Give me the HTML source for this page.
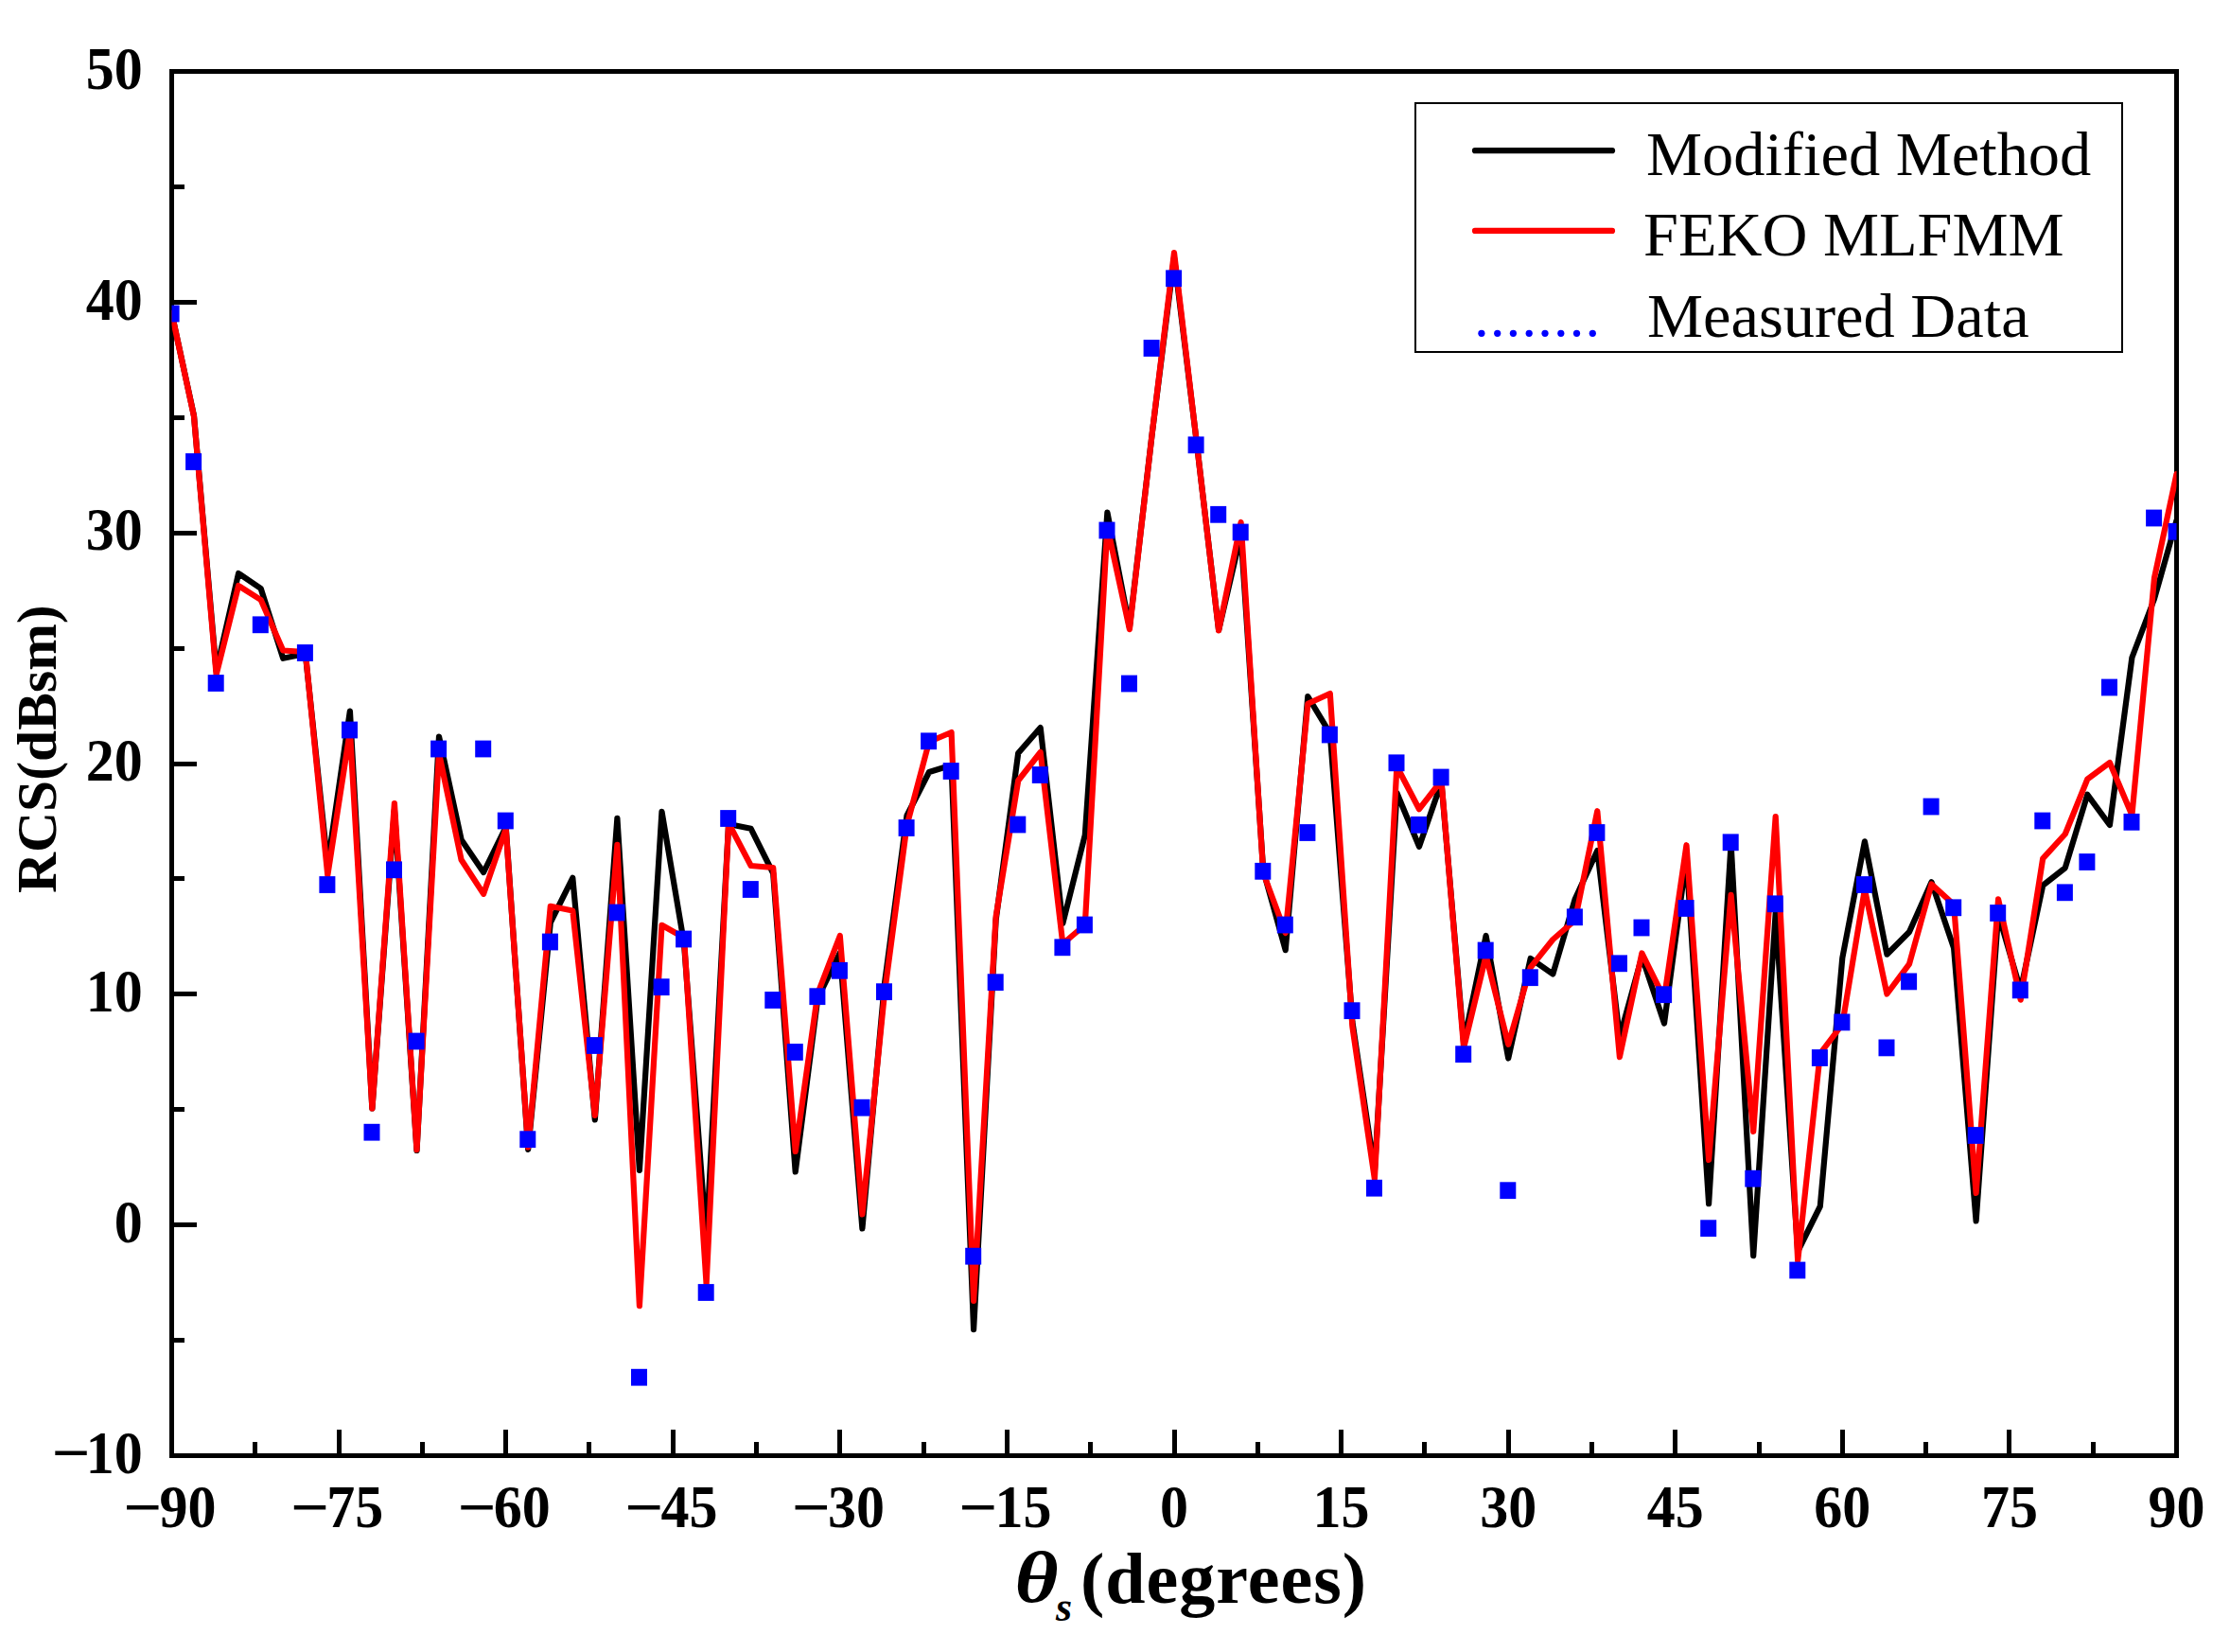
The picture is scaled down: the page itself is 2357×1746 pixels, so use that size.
<!DOCTYPE html>
<html lang="en">
<head>
<meta charset="utf-8">
<title>RCS comparison</title>
<style>
html,body{margin:0;padding:0;background:#fff;}
body{width:2357px;height:1746px;overflow:hidden;}
svg{display:block;}
text{font-family:"Liberation Serif","Times New Roman",serif;fill:#000;}
.b{font-weight:bold;}
</style>
</head>
<body>
<svg width="2357" height="1746" viewBox="0 0 2357 1746">
<rect width="2357" height="1746" fill="#fff"/>
<defs><clipPath id="pc"><rect x="181.5" y="75.5" width="2119.0" height="1463.0"/></clipPath></defs>
<rect x="181.5" y="75.5" width="2119.0" height="1463.0" fill="none" stroke="#000" stroke-width="5"/>
<path d="M181.5 75.5h26.5M181.5 197.5h13.5M181.5 319.5h26.5M181.5 441.5h13.5M181.5 563.5h26.5M181.5 685.5h13.5M181.5 807.5h26.5M181.5 928.5h13.5M181.5 1050.5h26.5M181.5 1172.5h13.5M181.5 1294.5h26.5M181.5 1416.5h13.5M181.5 1538.5h26.5M181.5 1538.5v-27.5M269.5 1538.5v-14.5M358.5 1538.5v-27.5M446.5 1538.5v-14.5M534.5 1538.5v-27.5M622.5 1538.5v-14.5M711.5 1538.5v-27.5M799.5 1538.5v-14.5M887.5 1538.5v-27.5M976.5 1538.5v-14.5M1064.5 1538.5v-27.5M1152.5 1538.5v-14.5M1241.5 1538.5v-27.5M1329.5 1538.5v-14.5M1417.5 1538.5v-27.5M1505.5 1538.5v-14.5M1594.5 1538.5v-27.5M1682.5 1538.5v-14.5M1770.5 1538.5v-27.5M1859.5 1538.5v-14.5M1947.5 1538.5v-27.5M2035.5 1538.5v-14.5M2123.5 1538.5v-27.5M2212.5 1538.5v-14.5M2300.5 1538.5v-27.5" stroke="#000" stroke-width="5" fill="none"/>
<g clip-path="url(#pc)">
<polyline points="181.5,331.0 205.0,439.5 228.6,709.0 252.1,606.0 275.7,622.0 299.2,695.8 322.8,691.0 346.3,914.0 369.9,751.5 393.4,1171.5 416.9,856.0 440.5,1216.0 464.0,778.5 487.6,887.5 511.1,922.0 534.7,874.0 558.2,1214.8 581.8,975.0 605.3,927.8 628.8,1183.5 652.4,864.8 675.9,1236.8 699.5,857.8 723.0,997.0 746.6,1310.0 770.1,871.0 793.7,875.8 817.2,923.0 840.7,1238.5 864.3,1055.0 887.8,1007.0 911.4,1298.5 934.9,1040.0 958.5,862.0 982.0,816.0 1005.6,808.8 1029.1,1405.2 1052.6,972.5 1076.2,796.0 1099.7,769.0 1123.3,976.0 1146.8,882.5 1170.4,541.5 1193.9,663.0 1217.5,460.0 1241.0,272.0 1264.5,465.0 1288.1,666.0 1311.6,565.0 1335.2,920.0 1358.7,1004.2 1382.3,736.2 1405.8,775.0 1429.4,1080.0 1452.9,1238.0 1476.4,838.0 1500.0,894.8 1523.5,827.0 1547.1,1102.0 1570.6,989.0 1594.2,1118.5 1617.7,1013.0 1641.3,1029.5 1664.8,950.0 1688.3,899.0 1711.9,1096.0 1735.4,1011.0 1759.0,1081.5 1782.5,906.0 1806.1,1272.2 1829.6,892.0 1853.2,1327.2 1876.7,965.0 1900.2,1322.5 1923.8,1275.0 1947.3,1012.5 1970.9,889.4 1994.4,1008.7 2018.0,985.0 2041.5,932.3 2065.1,1002.0 2088.6,1290.5 2112.1,966.0 2135.7,1046.5 2159.2,935.8 2182.8,917.2 2206.3,839.8 2229.9,872.0 2253.4,695.0 2277.0,633.0 2300.5,550.0" fill="none" stroke="#000" stroke-width="6.2" stroke-linejoin="round" stroke-linecap="round"/>
<polyline points="181.5,331.0 205.0,440.0 228.6,713.0 252.1,619.0 275.7,634.0 299.2,687.5 322.8,689.0 346.3,925.0 369.9,773.0 393.4,1171.5 416.9,849.0 440.5,1215.2 464.0,796.0 487.6,908.8 511.1,944.8 534.7,876.0 558.2,1212.5 581.8,957.8 605.3,962.5 628.8,1179.0 652.4,892.8 675.9,1380.2 699.5,977.8 723.0,991.0 746.6,1357.0 770.1,870.0 793.7,915.0 817.2,917.0 840.7,1217.0 864.3,1050.0 887.8,989.0 911.4,1283.5 934.9,1050.0 958.5,872.5 982.0,784.0 1005.6,774.0 1029.1,1374.8 1052.6,969.0 1076.2,825.0 1099.7,795.0 1123.3,997.5 1146.8,977.5 1170.4,557.0 1193.9,665.2 1217.5,460.0 1241.0,267.0 1264.5,465.0 1288.1,666.5 1311.6,552.0 1335.2,922.5 1358.7,986.0 1382.3,743.8 1405.8,733.0 1429.4,1085.0 1452.9,1246.0 1476.4,810.0 1500.0,855.2 1523.5,825.0 1547.1,1107.5 1570.6,1010.0 1594.2,1103.8 1617.7,1022.5 1641.3,993.0 1664.8,972.5 1688.3,857.2 1711.9,1117.2 1735.4,1007.5 1759.0,1055.0 1782.5,893.2 1806.1,1226.0 1829.6,945.8 1853.2,1196.0 1876.7,863.0 1900.2,1332.5 1923.8,1113.5 1947.3,1082.5 1970.9,940.0 1994.4,1050.5 2018.0,1018.8 2041.5,934.5 2065.1,956.0 2088.6,1261.0 2112.1,950.3 2135.7,1056.7 2159.2,907.3 2182.8,881.5 2206.3,823.5 2229.9,806.0 2253.4,861.5 2277.0,611.0 2300.5,501.0" fill="none" stroke="#f00" stroke-width="6.2" stroke-linejoin="round" stroke-linecap="round"/>
<g fill="#00f">
<rect x="172.6" y="322.6" width="17" height="17.8"/><rect x="196.1" y="479.1" width="17" height="17.8"/><rect x="219.7" y="713.1" width="17" height="17.8"/><rect x="266.8" y="651.4" width="17" height="17.8"/><rect x="313.9" y="681.1" width="17" height="17.8"/><rect x="337.4" y="926.1" width="17" height="17.8"/><rect x="361.0" y="762.6" width="17" height="17.8"/><rect x="384.5" y="1187.8" width="17" height="17.8"/><rect x="408.0" y="910.4" width="17" height="17.8"/><rect x="431.6" y="1091.6" width="17" height="17.8"/><rect x="455.1" y="782.6" width="17" height="17.8"/><rect x="502.2" y="782.6" width="17" height="17.8"/><rect x="525.8" y="858.6" width="17" height="17.8"/><rect x="549.3" y="1195.3" width="17" height="17.8"/><rect x="572.9" y="986.6" width="17" height="17.8"/><rect x="619.9" y="1096.1" width="17" height="17.8"/><rect x="643.5" y="955.6" width="17" height="17.8"/><rect x="667.0" y="1446.8" width="17" height="17.8"/><rect x="690.6" y="1034.3" width="17" height="17.8"/><rect x="714.1" y="983.6" width="17" height="17.8"/><rect x="737.7" y="1357.1" width="17" height="17.8"/><rect x="761.2" y="856.1" width="17" height="17.8"/><rect x="784.8" y="931.1" width="17" height="17.8"/><rect x="808.3" y="1048.1" width="17" height="17.8"/><rect x="831.8" y="1103.1" width="17" height="17.8"/><rect x="855.4" y="1044.3" width="17" height="17.8"/><rect x="878.9" y="1016.9" width="17" height="17.8"/><rect x="902.5" y="1161.8" width="17" height="17.8"/><rect x="926.0" y="1039.3" width="17" height="17.8"/><rect x="949.6" y="866.1" width="17" height="17.8"/><rect x="973.1" y="774.4" width="17" height="17.8"/><rect x="996.7" y="806.1" width="17" height="17.8"/><rect x="1020.2" y="1318.8" width="17" height="17.8"/><rect x="1043.7" y="1029.3" width="17" height="17.8"/><rect x="1067.3" y="862.6" width="17" height="17.8"/><rect x="1090.8" y="810.1" width="17" height="17.8"/><rect x="1114.4" y="992.4" width="17" height="17.8"/><rect x="1137.9" y="968.6" width="17" height="17.8"/><rect x="1161.5" y="551.6" width="17" height="17.8"/><rect x="1185.0" y="713.6" width="17" height="17.8"/><rect x="1208.6" y="359.1" width="17" height="17.8"/><rect x="1232.1" y="285.4" width="17" height="17.8"/><rect x="1255.6" y="461.4" width="17" height="17.8"/><rect x="1279.2" y="534.9" width="17" height="17.8"/><rect x="1302.7" y="553.6" width="17" height="17.8"/><rect x="1326.3" y="911.9" width="17" height="17.8"/><rect x="1349.8" y="968.6" width="17" height="17.8"/><rect x="1373.4" y="871.1" width="17" height="17.8"/><rect x="1396.9" y="767.6" width="17" height="17.8"/><rect x="1420.5" y="1059.3" width="17" height="17.8"/><rect x="1444.0" y="1246.8" width="17" height="17.8"/><rect x="1467.5" y="797.4" width="17" height="17.8"/><rect x="1491.1" y="862.9" width="17" height="17.8"/><rect x="1514.6" y="812.6" width="17" height="17.8"/><rect x="1538.2" y="1105.3" width="17" height="17.8"/><rect x="1561.7" y="995.6" width="17" height="17.8"/><rect x="1585.3" y="1249.3" width="17" height="17.8"/><rect x="1608.8" y="1024.3" width="17" height="17.8"/><rect x="1655.9" y="960.4" width="17" height="17.8"/><rect x="1679.4" y="871.1" width="17" height="17.8"/><rect x="1703.0" y="1009.4" width="17" height="17.8"/><rect x="1726.5" y="971.6" width="17" height="17.8"/><rect x="1750.1" y="1042.3" width="17" height="17.8"/><rect x="1773.6" y="951.1" width="17" height="17.8"/><rect x="1797.2" y="1289.3" width="17" height="17.8"/><rect x="1820.7" y="881.4" width="17" height="17.8"/><rect x="1844.3" y="1236.8" width="17" height="17.8"/><rect x="1867.8" y="946.4" width="17" height="17.8"/><rect x="1891.3" y="1333.6" width="17" height="17.8"/><rect x="1914.9" y="1109.1" width="17" height="17.8"/><rect x="1938.4" y="1071.5" width="17" height="17.8"/><rect x="1962.0" y="926.1" width="17" height="17.8"/><rect x="1985.5" y="1098.5" width="17" height="17.8"/><rect x="2009.1" y="1028.5" width="17" height="17.8"/><rect x="2032.6" y="843.6" width="17" height="17.8"/><rect x="2056.2" y="950.4" width="17" height="17.8"/><rect x="2079.7" y="1191.1" width="17" height="17.8"/><rect x="2103.2" y="956.1" width="17" height="17.8"/><rect x="2126.8" y="1037.5" width="17" height="17.8"/><rect x="2150.3" y="858.6" width="17" height="17.8"/><rect x="2173.9" y="934.4" width="17" height="17.8"/><rect x="2197.4" y="902.1" width="17" height="17.8"/><rect x="2221.0" y="717.6" width="17" height="17.8"/><rect x="2244.5" y="859.9" width="17" height="17.8"/><rect x="2268.1" y="538.6" width="17" height="17.8"/><rect x="2291.6" y="552.9" width="17" height="17.8"/>
</g>
</g>
<g class="b" font-size="60">
<text text-anchor="end" transform="translate(150.8 93.7) scale(1 1.065)">50</text><text text-anchor="end" transform="translate(150.8 337.5) scale(1 1.065)">40</text><text text-anchor="end" transform="translate(150.8 581.4) scale(1 1.065)">30</text><text text-anchor="end" transform="translate(150.8 825.2) scale(1 1.065)">20</text><text text-anchor="end" transform="translate(150.8 1069.0) scale(1 1.065)">10</text><text text-anchor="end" transform="translate(150.8 1312.9) scale(1 1.065)">0</text><text text-anchor="end" transform="translate(150.8 1556.7) scale(1 1.065)">10</text><text text-anchor="middle" transform="translate(74.9 1556.7) scale(1.2 1.065)">−</text>
</g>
<g class="b" font-size="60">
<text text-anchor="middle" transform="translate(151.1 1613.5) scale(1.2 1.04)">−</text><text text-anchor="start" transform="translate(168.6 1613.5) scale(1 1.04)">90</text><text text-anchor="middle" transform="translate(327.7 1613.5) scale(1.2 1.04)">−</text><text text-anchor="start" transform="translate(345.2 1613.5) scale(1 1.04)">75</text><text text-anchor="middle" transform="translate(504.3 1613.5) scale(1.2 1.04)">−</text><text text-anchor="start" transform="translate(521.8 1613.5) scale(1 1.04)">60</text><text text-anchor="middle" transform="translate(680.9 1613.5) scale(1.2 1.04)">−</text><text text-anchor="start" transform="translate(698.4 1613.5) scale(1 1.04)">45</text><text text-anchor="middle" transform="translate(857.4 1613.5) scale(1.2 1.04)">−</text><text text-anchor="start" transform="translate(874.9 1613.5) scale(1 1.04)">30</text><text text-anchor="middle" transform="translate(1034.0 1613.5) scale(1.2 1.04)">−</text><text text-anchor="start" transform="translate(1051.5 1613.5) scale(1 1.04)">15</text><text text-anchor="middle" transform="translate(1241.0 1613.5) scale(1 1.04)">0</text><text text-anchor="middle" transform="translate(1417.6 1613.5) scale(1 1.04)">15</text><text text-anchor="middle" transform="translate(1594.2 1613.5) scale(1 1.04)">30</text><text text-anchor="middle" transform="translate(1770.8 1613.5) scale(1 1.04)">45</text><text text-anchor="middle" transform="translate(1947.3 1613.5) scale(1 1.04)">60</text><text text-anchor="middle" transform="translate(2123.9 1613.5) scale(1 1.04)">75</text><text text-anchor="middle" transform="translate(2300.5 1613.5) scale(1 1.04)">90</text>
</g>
<text class="b" font-size="59.6" text-anchor="middle" transform="translate(58.6 791.7) rotate(-90)">RCS(dBsm)</text>
<text class="b" font-size="76" font-style="italic" transform="translate(1072.5 1693.3) scale(1.17 1)">θ</text>
<text class="b" font-size="44" font-style="italic" x="1116" y="1713.3">s</text>
<text class="b" font-size="76" x="1142" y="1693.6" letter-spacing="1">(degrees)</text>
<rect x="1496" y="109" width="747" height="263" fill="#fff" stroke="#000" stroke-width="2"/>
<path d="M1559 159.2H1704" stroke="#000" stroke-width="6.2" stroke-linecap="round"/>
<path d="M1559 243.9H1704" stroke="#f00" stroke-width="6.2" stroke-linecap="round"/>
<g fill="#00f"><circle cx="1565.9" cy="352.3" r="3.6"/><circle cx="1582.7" cy="352.3" r="3.6"/><circle cx="1599.4" cy="352.3" r="3.6"/><circle cx="1616.2" cy="352.3" r="3.6"/><circle cx="1633.0" cy="352.3" r="3.6"/><circle cx="1649.8" cy="352.3" r="3.6"/><circle cx="1666.5" cy="352.3" r="3.6"/><circle cx="1683.3" cy="352.3" r="3.6"/></g>
<g font-size="66.4">
<text x="1740" y="184.6">Modified Method</text>
<text x="1737" y="270">FEKO MLFMM</text>
<text x="1741" y="355.5">Measured Data</text>
</g>
</svg>
</body>
</html>
